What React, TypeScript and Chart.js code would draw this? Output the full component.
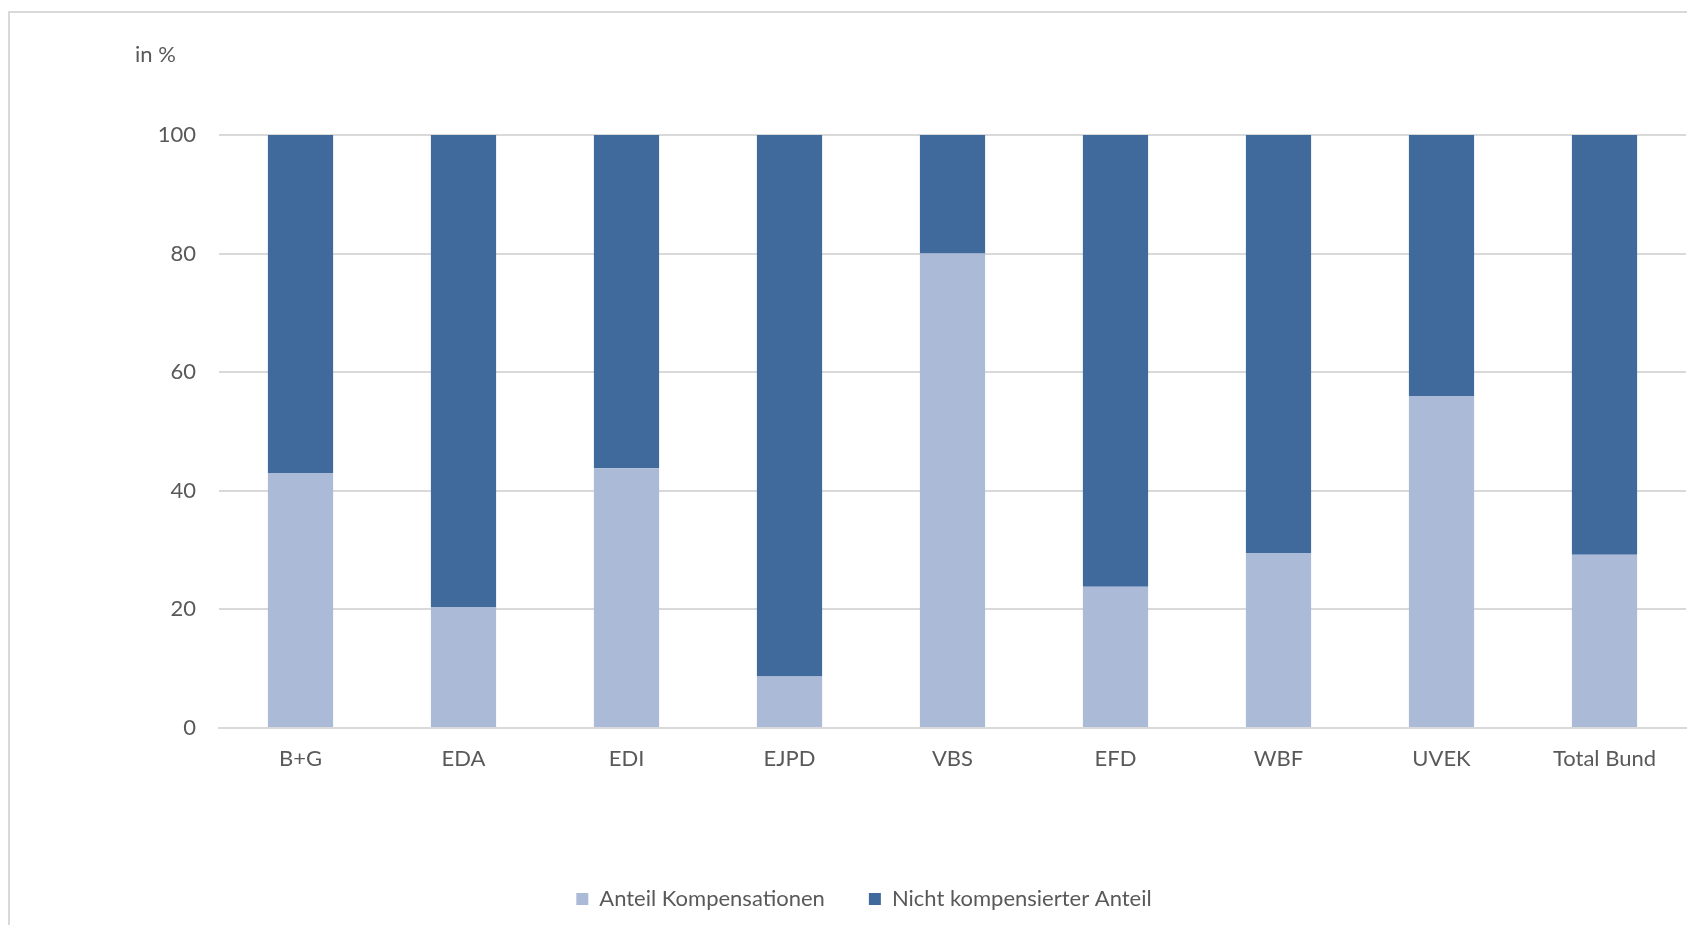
import React, { useEffect, useRef } from "react";
import { Chart, registerables } from "chart.js";

Chart.register(...registerables);

const categories = ["B+G", "EDA", "EDI", "EJPD", "VBS", "EFD", "WBF", "UVEK", "Total Bund"];
const anteilKompensationen = [43.0, 20.4, 43.8, 8.7, 80.0, 23.8, 29.5, 56.0, 29.2];
const nichtKompensiert = [57.0, 79.6, 56.2, 91.3, 20.0, 76.2, 70.5, 44.0, 70.8];
const seriesLabels = ["Anteil Kompensationen", "Nicht kompensierter Anteil"];
const yTicks = { min: 0, max: 100, step: 20 };
const unitLabel = "in %";

const FONT = "Lato";
const TEXT = "#595959";
const GRID = "#d9d9d9";

export default function App() {
  const ref = useRef<HTMLCanvasElement | null>(null);

  useEffect(() => {
    if (!ref.current) return;
    const decor = {
      id: "decor",
      afterDraw(chart: any) {
        const ctx = chart.ctx;
        ctx.save();
        ctx.strokeStyle = GRID;
        ctx.lineWidth = 2;
        ctx.beginPath();
        ctx.moveTo(1, chart.height);
        ctx.lineTo(1, 4);
        ctx.lineTo(chart.width, 4);
        ctx.stroke();
        ctx.fillStyle = TEXT;
        ctx.font = `22px ${FONT}`;
        ctx.textAlign = "left";
        ctx.textBaseline = "middle";
        ctx.fillText(unitLabel, 127, 47);
        ctx.restore();
      },
    };
    const chart = new Chart(ref.current, {
      type: "bar",
      data: {
        labels: categories,
        datasets: [
          {
            label: seriesLabels[0],
            data: anteilKompensationen,
            backgroundColor: "#abbad7",
            barPercentage: 0.4,
            categoryPercentage: 1,
          },
          {
            label: seriesLabels[1],
            data: nichtKompensiert,
            backgroundColor: "#406a9b",
            barPercentage: 0.4,
            categoryPercentage: 1,
          },
        ],
      },
      options: {
        animation: false,
        responsive: true,
        maintainAspectRatio: false,
        layout: { padding: { left: 34, right: 1, top: 127, bottom: 5 } },
        scales: {
          x: {
            stacked: true,
            grid: { display: false },
            border: { display: true, color: GRID, width: 2 },
            ticks: { color: TEXT, font: { family: FONT, size: 22 }, padding: 10, maxRotation: 0 },
            afterFit: (s: any) => {
              s.height = 116;
            },
          },
          y: {
            stacked: true,
            min: yTicks.min,
            max: yTicks.max,
            grid: { color: GRID, lineWidth: 2, drawTicks: false },
            border: { display: false },
            ticks: { stepSize: yTicks.step, color: TEXT, font: { family: FONT, size: 22 }, padding: 23 },
            afterFit: (s: any) => {
              s.width = 177;
            },
          },
        },
        plugins: {
          legend: {
            position: "bottom",
            labels: {
              color: TEXT,
              font: { family: FONT, size: 22 },
              boxWidth: 12,
              boxHeight: 12,
              padding: 44,
            },
          },
          tooltip: { enabled: false },
        },
      },
      plugins: [decor],
    });
    return () => chart.destroy();
  }, []);

  return (
    <div style={{ position: "relative", width: "100%", height: 917 }}>
      <canvas ref={ref} />
    </div>
  );
}
